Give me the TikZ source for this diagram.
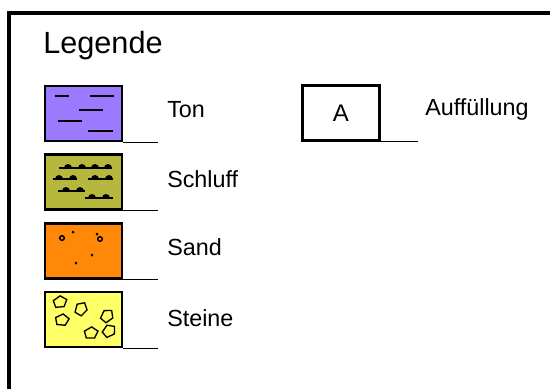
\documentclass[tikz,border=0pt]{standalone}
\usepackage{fontspec}
\setmainfont{Liberation Sans}
\definecolor{tonc}{RGB}{155,122,255}
\definecolor{schluffc}{RGB}{181,184,60}
\definecolor{sandc}{RGB}{255,136,8}
\definecolor{steinec}{RGB}{255,255,102}
\tikzset{
  lbox/.style={draw, line width=1.7pt, minimum width=57.75pt, minimum height=41.25pt, inner sep=0pt},
  lab/.style={anchor=base west, inner sep=0pt, font=\fontsize{17.5pt}{20pt}\selectfont},
  ttl/.style={anchor=base west, inner sep=0pt, font=\fontsize{23pt}{26pt}\selectfont},
  leader/.style={line width=0.9pt},
  frame/.style={line width=2.3pt},
  hatch/.style={line width=1pt},
  rock/.style={line width=1pt, line join=miter},
  bump/.style={insert path={arc[start angle=180,end angle=360,radius=4] -- cycle}},
}
\begin{document}
\begin{tikzpicture}[x=0.75pt,y=-0.75pt]
\useasboundingbox (0,0) rectangle (550,389);
% frame
\coordinate (fb) at (9,392);
\coordinate (fc) at (9,13);
\coordinate (fr) at (553,13);
\draw[frame] (fb) -- (fc) -- (fr);
\node[ttl] (title) at (43,53) {Legende};

% Ton
\node[lbox, fill=tonc] (ton) at (83.5,113.5) {};
\begin{scope}[shift={(45,86)}]
  \draw[hatch] (10,10) -- (24,10);
  \draw[hatch] (45,10) -- (69,10);
  \draw[hatch] (34,24) -- (58,24);
  \draw[hatch] (13,35) -- (37,35);
  \draw[hatch] (43,45) -- (68,45);
\end{scope}
\coordinate (tonend) at (158,141);
\draw[leader] (ton.south east) -- (ton.south east -| tonend);
\node[lab] (tonlab) at (167,117) {Ton};

% Schluff
\node[lbox, fill=schluffc] (schluff) at (83.5,182) {};
\begin{scope}[shift={(45,155)}]
  \draw[hatch] (14,13) -- (67,13);
  \foreach \x in {23,37,50,63} \fill (\x-4,13) [bump];
  \draw[hatch] (8,24) -- (32,24);
  \foreach \x in {14,28} \fill (\x-4,24) [bump];
  \draw[hatch] (43,24) -- (68,24);
  \foreach \x in {50,64} \fill (\x-4,24) [bump];
  \draw[hatch] (13,36) -- (40,36);
  \foreach \x in {21,35} \fill (\x-4,36) [bump];
  \draw[hatch] (40,43) -- (68,43);
  \foreach \x in {47,61} \fill (\x-4,43) [bump];
\end{scope}
\coordinate (schluffend) at (158,209);
\draw[leader] (schluff.south east) -- (schluff.south east -| schluffend);
\node[lab] (schlufflab) at (167,187) {Schluff};

% Sand
\node[lbox, fill=sandc] (sand) at (83.5,251) {};
\begin{scope}[shift={(45,224)}]
  \foreach \p in {(28,8),(52,10),(47,31),(31,39)} \fill \p circle[radius=1.5];
  \foreach \p in {(17,14),(55,15)} \draw[line width=1.1pt] \p circle[radius=2.3];
\end{scope}
\coordinate (sandend) at (158,278);
\draw[leader] (sand.south east) -- (sand.south east -| sandend);
\node[lab] (sandlab) at (167,255) {Sand};

% Steine
\node[lbox, fill=steinec] (steine) at (83.5,319.5) {};
\begin{scope}[shift={(45,293)}]
  \foreach \cx/\cy/\r in {15/9/20, 36/16/60, 17/27/10, 62/23/50, 46/40/15, 64/38/40}
    \draw[rock, shift={(\cx,\cy)}, rotate=\r, xscale=1.2]
      (0:6) -- (72:6) -- (144:6) -- (216:6) -- (288:6) -- cycle;
\end{scope}
\coordinate (steineend) at (158,347);
\draw[leader] (steine.south east) -- (steine.south east -| steineend);
\node[lab] (steinelab) at (167,326) {Steine};

% Auffuellung
\node[lbox, fill=white, font=\fontsize{18pt}{20pt}\selectfont] (auf) at (341,113) {A};
\coordinate (aufend) at (418,140);
\draw[leader] (auf.south east) -- (auf.south east -| aufend);
\node[lab] (auflab) at (425,115) {Auffüllung};
\end{tikzpicture}
\end{document}
